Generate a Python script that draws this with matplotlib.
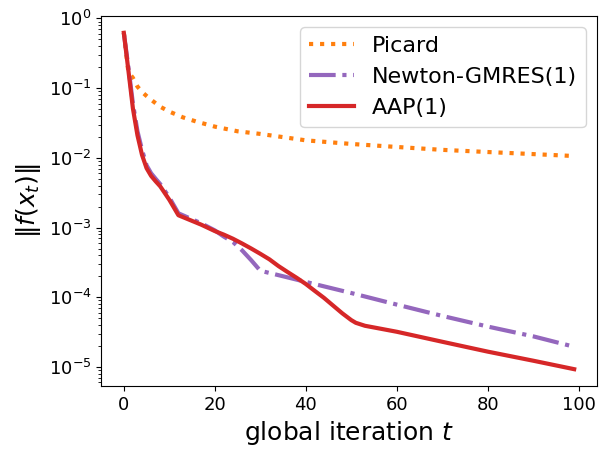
import matplotlib
matplotlib.use("Agg")
import matplotlib.pyplot as plt

# values (residual norm vs. global iteration)
t_picard = [0, 1, 2, 3, 4, 5, 6, 8, 10, 13, 16, 20, 25, 30, 40, 50, 60, 70, 80, 90, 99]
res_picard = [0.62, 0.17, 0.14, 0.105, 0.088, 0.077, 0.068, 0.054, 0.046, 0.038, 0.033,
              0.028, 0.024, 0.022, 0.0178, 0.0158, 0.0143, 0.013, 0.0121, 0.0113, 0.0106]

t_newton = [0, 1, 2, 3, 4, 5, 6, 7, 8, 10, 12, 17, 20, 22, 24, 26, 28, 30, 35, 40, 50, 60, 70, 80, 90, 99]
res_newton = [0.62, 0.2, 0.06, 0.024, 0.013, 0.0078, 0.006, 0.005, 0.0042, 0.0027, 0.0016,
              0.00115, 0.00091, 0.00074, 0.00062, 0.00047, 0.00034, 0.00024, 0.0002, 0.000166,
              0.000115, 7.85e-5, 5.4e-5, 3.8e-5, 2.75e-5, 1.95e-5]

t_aap = [0, 1, 2, 3, 4, 5, 6, 7, 8, 10, 12, 17, 20, 22, 24, 26, 28, 30, 32, 34, 36, 38, 40,
         42, 44, 46, 48, 50, 51, 53, 60, 70, 80, 90, 99]
res_aap = [0.62, 0.18, 0.051, 0.021, 0.011, 0.0071, 0.0055, 0.0046, 0.0039, 0.0025, 0.0015,
           0.0011, 0.00089, 0.00079, 0.00069, 0.00059, 0.0005, 0.00042, 0.00035, 0.00028,
           0.00023, 0.00019, 0.000155, 0.000123, 9.8e-5, 7.6e-5, 5.9e-5, 4.7e-5, 4.3e-5,
           3.9e-5, 3.2e-5, 2.3e-5, 1.66e-5, 1.23e-5, 9.3e-6]

fig = plt.figure(figsize=(6.06, 4.58), dpi=100)
ax = fig.add_axes([101.3 / 606, 72 / 458, 495.4 / 606, 370 / 458])

ax.plot(t_picard, res_picard, ':', color='tab:orange', lw=3, label='Picard')
ax.plot(t_newton, res_newton, '-.', color='tab:purple', lw=3, label='Newton-GMRES(1)')
ax.plot(t_aap, res_aap, '-', color='tab:red', lw=3, label='AAP(1)')

ax.set_yscale('log')
ax.set_xlabel('global iteration $t$', fontsize=18)
ax.set_ylabel(r'$\|f(x_t)\|$', fontsize=18)
ax.tick_params(labelsize=13)
ax.legend(loc='upper right', fontsize=16)

fig.savefig('out.png', dpi=100)
